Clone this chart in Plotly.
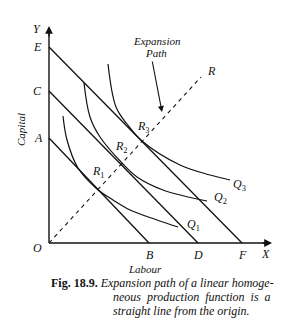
import plotly.graph_objects as go

# Budget (isocost) lines: intercepts on capital (Y) and labour (X) axes
budget_names = ["AB", "CD", "EF"]
capital_intercepts = [105, 152, 196]   # A, C, E
labour_intercepts = [100, 149, 193]    # B, D, F

# Isoquants (labour, capital)
q1_x = [14, 18, 29, 48, 64, 81, 108, 129]
q1_y = [127, 103, 75, 54, 43, 33, 23, 16]
q2_x = [35, 41, 51, 73, 88, 114, 158]
q2_y = [160, 126, 106, 80, 66, 53, 42]
q3_x = [59, 67, 78, 93, 131, 161, 181]
q3_y = [179, 136, 119, 102, 78, 68, 63]

# Expansion path (ray OR)
ray_x = [0, 152]
ray_y = [0, 166]

FONT = "Liberation Serif"
BLACK = "#111111"

fig = go.Figure()

for yi, xi in zip(capital_intercepts, labour_intercepts):
    fig.add_trace(go.Scatter(x=[0, xi], y=[yi, 0], mode="lines",
                             line=dict(color=BLACK, width=1.3), hoverinfo="skip"))

for xs, ys in [(q1_x, q1_y), (q2_x, q2_y), (q3_x, q3_y)]:
    fig.add_trace(go.Scatter(x=xs, y=ys, mode="lines",
                             line=dict(color=BLACK, width=1.2, shape="spline", smoothing=1.0),
                             hoverinfo="skip"))

fig.add_trace(go.Scatter(x=ray_x, y=ray_y, mode="lines",
                         line=dict(color=BLACK, width=1.1, dash="4px,4px"), hoverinfo="skip"))

# Axes with arrows
fig.add_trace(go.Scatter(x=[0, 0], y=[0, 212], mode="lines",
                         line=dict(color=BLACK, width=1.4), hoverinfo="skip"))
fig.add_trace(go.Scatter(x=[0, 218], y=[0, 0], mode="lines",
                         line=dict(color=BLACK, width=1.4), hoverinfo="skip"))

ann = []
ann.append(dict(x=0, y=217, ax=0, ay=205, xref="x", yref="y", axref="x", ayref="y",
                showarrow=True, arrowhead=2, arrowsize=1.2, arrowwidth=1.3, arrowcolor=BLACK, text=""))
ann.append(dict(x=223, y=0, ax=212, ay=0, xref="x", yref="y", axref="x", ayref="y",
                showarrow=True, arrowhead=2, arrowsize=1.2, arrowwidth=1.3, arrowcolor=BLACK, text=""))
# Expansion path pointer arrow
ann.append(dict(x=113, y=131, ax=103, ay=183, xref="x", yref="y", axref="x", ayref="y",
                showarrow=True, arrowhead=2, arrowsize=1.1, arrowwidth=1.1, arrowcolor=BLACK, text=""))


def lab(x, y, t, size=12, **kw):
    d = dict(x=x, y=y, xref="x", yref="y", text=t, showarrow=False,
             font=dict(family=FONT, size=size, color=BLACK))
    d.update(kw)
    ann.append(d)


# axis letter labels
lab(-12, 214, "<i>Y</i>")
lab(-12, 196, "<i>E</i>")
lab(-12, 152, "<i>C</i>")
lab(-11, 105, "<i>A</i>")
lab(-12, -5, "<i>O</i>")
lab(101, -12, "<i>B</i>")
lab(149, -12, "<i>D</i>")
lab(193, -12, "<i>F</i>")
lab(216, -11, "<i>X</i>")
lab(-28, 113, "<i>Capital</i>", size=11, textangle=-90)
lab(96, -26, "<i>Labour</i>", size=11)

# isoquant labels
lab(144, 18, "<i>Q</i><sub>1</sub>")
lab(171, 45, "<i>Q</i><sub>2</sub>")
lab(190, 58, "<i>Q</i><sub>3</sub>")
# tangency labels
lab(49, 71, "<i>R</i><sub>1</sub>")
lab(72, 96, "<i>R</i><sub>2</sub>")
lab(94, 116, "<i>R</i><sub>3</sub>")
lab(162, 172, "<i>R</i>")
lab(108, 202, "<i>Expansion</i>", size=11)
lab(107, 190, "<i>Path</i>", size=11)

# caption
lab(0, -40, "<b>Fig. 18.9.</b> <i>Expansion path of a linear homoge-</i>", size=12, xanchor="left")
lab(62, -54, "<i>neous  production  function  is  a</i>", size=12, xanchor="left")
lab(62, -68, "<i>straight line from the origin.</i>", size=12, xanchor="left")

fig.update_layout(
    width=293, height=336,
    margin=dict(l=0, r=0, t=0, b=0),
    paper_bgcolor="white", plot_bgcolor="white",
    showlegend=False,
    xaxis=dict(range=[-49, 244], visible=False, fixedrange=True),
    yaxis=dict(range=[-93, 243], visible=False, fixedrange=True),
    annotations=ann,
)

fig.write_html("out.html")
